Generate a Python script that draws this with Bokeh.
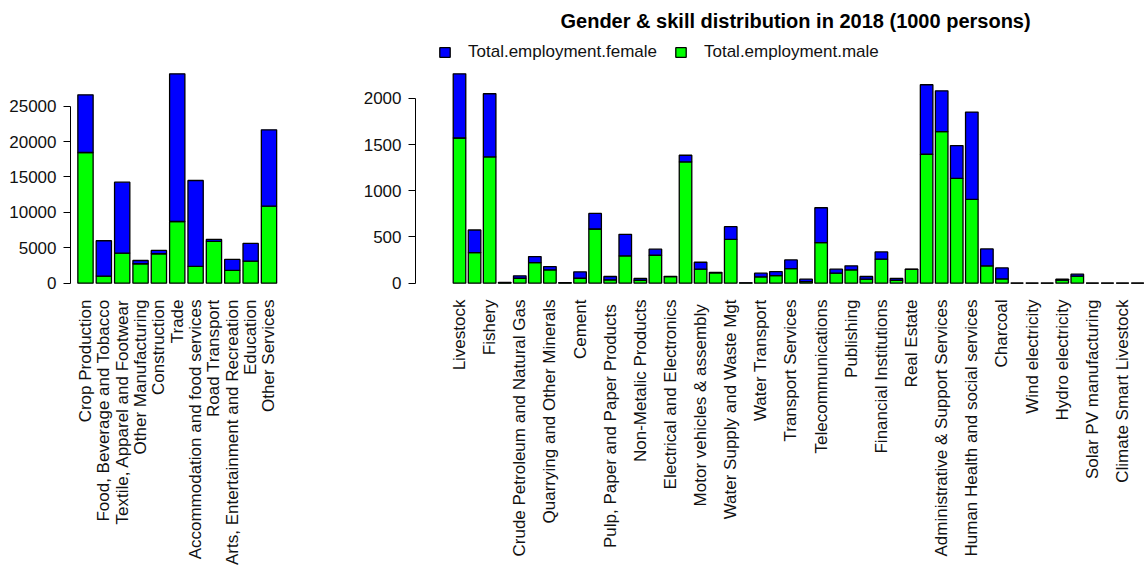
import math
from bokeh.plotting import figure
from bokeh.models import ColumnDataSource, Range1d, FixedTicker, Legend, LegendItem, Label
from bokeh.core.properties import value
from bokeh.layouts import row
from bokeh.embed import file_html
from bokeh.resources import INLINE

# ---------------- data (1000 persons) ----------------
left_sectors = ["Crop Production", "Food, Beverage and Tobacco", "Textile, Apparel and Footwear",
                "Other Manufacturing", "Construction", "Trade", "Accommodation and food services",
                "Road Transport", "Arts, Entertainment and Recreation", "Education", "Other Services"]
left_male = [18460, 990, 4240, 2740, 4150, 8710, 2360, 5890, 1790, 3110, 10880]
left_female = [8150, 5000, 10030, 460, 470, 20860, 12140, 280, 1560, 2500, 10780]

# 46 sectors on the right panel; only every other one carries a visible label
right_labels = ["Livestock", "Fishery", "Crude Petroleum and Natural Gas", "Quarrying and Other Minerals",
                "Cement", "Pulp, Paper and Paper  Products", "Non-Metalic Products",
                "Electrical and Electronics", "Motor vehicles &  assembly", "Water Supply and Waste Mgt",
                "Water Transport", "Transport Services", "Telecommunications", "Publishing",
                "Financial Institutions", "Real Estate", "Administrative & Support Services",
                "Human Health and social services", "Charcoal", "Wind electricity", "Hydro electricity",
                "Solar PV manufacturing", "Climate Smart Livestock"]
right_male = [1571, 330, 1366, 3, 53, 222, 143, 3, 53, 586, 36, 294, 29, 302, 70, 1312,
              151, 112, 474, 2, 68, 82, 158, 17, 438, 108, 143, 43, 259, 29, 148, 1395,
              1640, 1133, 906, 187, 46, 0, 0, 0, 32, 75, 0, 0, 0, 0]
right_female = [694, 245, 684, 5, 26, 65, 36, 2, 69, 169, 36, 234, 21, 65, 2, 72,
                75, 3, 137, 1, 40, 43, 93, 26, 378, 43, 44, 29, 79, 21, 3, 752,
                442, 356, 945, 183, 119, 0, 0, 0, 11, 22, 0, 0, 0, 0]

left_ticks = [0, 5000, 10000, 15000, 20000, 25000]
right_ticks = [0, 500, 1000, 1500, 2000]

title_text = "Gender & skill distribution in 2018 (1000 persons)"
female_label = "Total.employment.female"
male_label = "Total.employment.male"

FEMALE = "#0000FF"
MALE = "#00FF00"
FONT = "Liberation Sans"
BAR_W = 1 / 1.2
H = 568
TOP = 65              # top of the bar region (R plot region) in px
PLOT_H = 226          # height of the bar region


def make_panel(male, female, ticks, xr, width, bl, br, tick_pos, tick_names):
    n = len(male)
    totals = [m + f for m, f in zip(male, female)]
    mx = max(totals)
    units_per_px = 1.08 * mx / PLOT_H
    y_end = 1.04 * mx + TOP * units_per_px
    y_start = y_end - H * units_per_px
    src = ColumnDataSource(dict(x=list(range(n)), male=male, female=female))
    p = figure(width=width, height=H, output_backend="svg", toolbar_location=None,
               x_range=Range1d(*xr), y_range=Range1d(y_start, y_end), x_axis_location=None,
               min_border_left=bl, min_border_right=br, min_border_top=0,
               min_border_bottom=0)
    p.title = None
    rs = p.vbar_stack(["male", "female"], x="x", width=BAR_W, source=src,
                      fill_color=[MALE, FEMALE], line_color="black", line_width=1.3)
    p.outline_line_color = None
    p.grid.visible = False
    p.background_fill_color = "white"
    p.border_fill_color = "white"

    ya = p.yaxis[0]
    ya.ticker = FixedTicker(ticks=ticks)
    ya.bounds = (ticks[0], ticks[-1])
    ya.minor_tick_line_color = None
    ya.major_tick_in = 0
    ya.major_tick_out = 7
    ya.major_label_standoff = 7
    ya.axis_line_color = "black"
    ya.major_tick_line_color = "black"
    ya.major_label_text_font = FONT
    ya.major_label_text_font_size = "17px"
    ya.major_label_text_color = "#111111"

    # category labels, rotated to read bottom-to-top, hanging below the plot region
    lab_src = ColumnDataSource(dict(x=tick_pos, y=[-0.04 * mx] * len(tick_pos), text=tick_names))
    p.text(x="x", y="y", text="text", source=lab_src, angle=math.pi / 2,
           text_align="right", text_baseline="middle", y_offset=8,
           text_font=value(FONT), text_font_size="17px", text_color="#111111")
    return p, rs


p1, _ = make_panel(left_male, left_female, left_ticks, (-0.817, 10.845), 294, 70, 10,
                   list(range(len(left_sectors))), left_sectors)

right_pos = list(range(0, len(right_male), 2))
p2, rs2 = make_panel(right_male, right_female, right_ticks, (-2.92, 45.46), 850, 121, 0,
                     right_pos, right_labels)

title = Label(x=145, y=H - 20, x_units="screen", y_units="screen", text=title_text,
              text_font=FONT, text_font_size="20px", text_font_style="bold", text_color="black",
              text_align="left", text_baseline="middle")
p2.add_layout(title)

legend = Legend(items=[LegendItem(label=female_label, renderers=[rs2[1]]),
                       LegendItem(label=male_label, renderers=[rs2[0]])],
                orientation="horizontal", location=(23, H - 62),
                border_line_color=None, background_fill_alpha=0,
                padding=0, margin=0, spacing=17, label_standoff=17,
                glyph_width=13, glyph_height=12,
                label_text_font=FONT, label_text_font_size="17px", label_text_color="#111111")
p2.add_layout(legend)

layout = row(p1, p2)
open("out.html", "w").write(file_html(layout, INLINE))
